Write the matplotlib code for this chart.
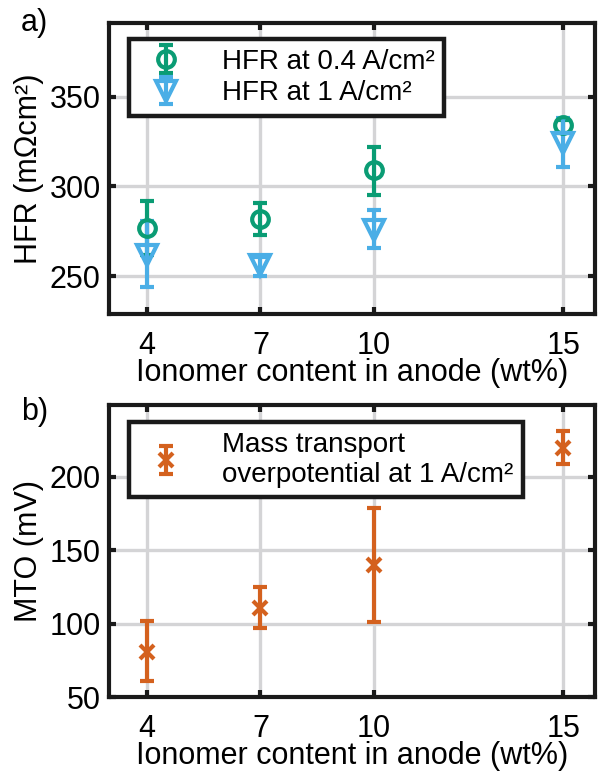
import numpy as np
import matplotlib.pyplot as plt

plt.rcParams['font.family'] = ['Liberation Sans', 'DejaVu Sans']

# ionomer content (wt%)
ionomer = [4, 7, 10, 15]

# HFR at 0.4 A/cm2 (mOhm cm2)
hfr04 = [277, 282, 309, 334]
hfr04_lo = [262, 273, 295, 330]
hfr04_hi = [292, 291, 322, 337]

# HFR at 1 A/cm2
hfr1 = [262, 256, 276, 324]
hfr1_lo = [244, 250, 266, 311]
hfr1_hi = [281, 261, 287, 338]

# mass transport overpotential at 1 A/cm2 (mV)
mto = [81, 111, 140, 220]
mto_lo = [61, 97, 101, 209]
mto_hi = [102, 125, 179, 231]

green = '#0a9c74'
blue = '#4aaee6'
orange = '#d4611e'
grid_c = '#d4d4d6'
fs = 22
lw = 3.0


def err(y, lo, hi):
    y = np.array(y)
    return [y - np.array(lo), np.array(hi) - y]


def style(ax):
    ax.grid(True, color=grid_c, lw=2.4)
    ax.set_axisbelow(True)
    for s in ax.spines.values():
        s.set_linewidth(3.0)
        s.set_color('#1a1a1a')
    ax.tick_params(direction='in', length=5, width=3.0, color='#1a1a1a',
                   labelsize=fs, top=True, right=True, pad=6)
    ax.tick_params(axis='x', pad=12)
    ax.set_xlim(3, 15.84)
    ax.set_xticks(ionomer)
    ax.set_xlabel('Ionomer content in anode (wt%)', fontsize=fs, labelpad=-2)


def legend(ax, y):
    leg = ax.legend(loc='upper left', bbox_to_anchor=(0.041, y), fontsize=20,
                    frameon=True, fancybox=False, borderaxespad=0, handlelength=2.0,
                    handletextpad=1.0, borderpad=0.35, labelspacing=0.2)
    leg.get_frame().set_edgecolor('#1a1a1a')
    leg.get_frame().set_linewidth(3.2)
    leg.get_frame().set_alpha(1)


fig = plt.figure(figsize=(5.98, 7.73), dpi=100)

ax1 = fig.add_axes([0.1823, 0.5938, 0.8127, 0.3765])
ax1.errorbar(ionomer, hfr04, yerr=err(hfr04, hfr04_lo, hfr04_hi), fmt='o',
             color=green, mfc='none', mec=green, ms=12, mew=lw, elinewidth=lw,
             capsize=5, capthick=lw, label='HFR at 0.4 A/cm²')
ax1.errorbar(ionomer, hfr1, yerr=err(hfr1, hfr1_lo, hfr1_hi), fmt='v',
             color=blue, mfc='none', mec=blue, ms=14, mew=lw, elinewidth=lw,
             capsize=5, capthick=lw, label='HFR at 1 A/cm²')
style(ax1)
ax1.set_ylim(229, 391)
ax1.set_yticks([250, 300, 350])
ax1.set_ylabel('HFR (mΩcm²)', fontsize=fs, labelpad=4)
legend(ax1, 0.945)

ax2 = fig.add_axes([0.1823, 0.0983, 0.8127, 0.3777])
ax2.errorbar(ionomer, mto, yerr=err(mto, mto_lo, mto_hi), fmt='x',
             color=orange, ms=10, mew=lw, elinewidth=lw,
             capsize=5, capthick=lw,
             label='Mass transport\noverpotential at 1 A/cm²')
style(ax2)
ax2.set_ylim(50, 249)
ax2.set_yticks([50, 100, 150, 200])
ax2.set_ylabel('MTO (mV)', fontsize=fs, labelpad=4)
legend(ax2, 0.942)

fig.text(0.035, 0.99, 'a)', fontsize=fs, va='top')
fig.text(0.035, 0.487, 'b)', fontsize=fs, va='top')

fig.savefig('out.png', dpi=100)
